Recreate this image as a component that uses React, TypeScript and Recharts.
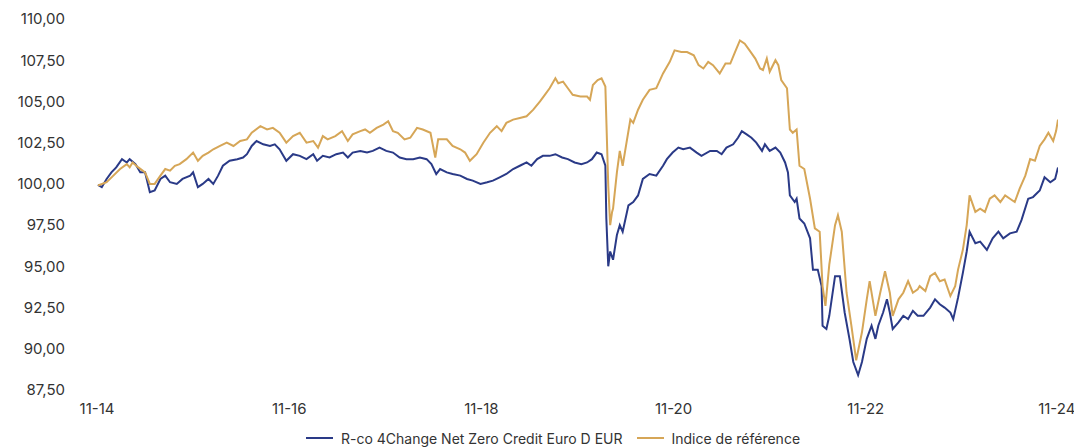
import React from "react";
import { LineChart, Line, XAxis, YAxis, Legend } from "recharts";

// time in years since Nov 2014
const fundT = [0.01,0.05,0.10,0.15,0.20,0.26,0.31,0.34,0.40,0.45,0.50,0.55,0.60,0.66,0.71,0.76,0.83,0.89,0.97,1.00,1.05,1.10,1.16,1.21,1.26,1.31,1.38,1.46,1.52,1.56,1.61,1.66,1.73,1.80,1.85,1.90,1.97,2.04,2.11,2.18,2.25,2.29,2.35,2.42,2.49,2.56,2.61,2.66,2.74,2.81,2.87,2.94,3.01,3.08,3.15,3.22,3.29,3.36,3.43,3.48,3.53,3.57,3.64,3.70,3.78,3.85,3.91,3.99,4.06,4.12,4.19,4.26,4.33,4.40,4.47,4.52,4.58,4.64,4.71,4.77,4.84,4.90,4.97,5.04,5.10,5.15,5.20,5.25,5.29,5.30,5.32,5.34,5.37,5.41,5.44,5.47,5.53,5.58,5.63,5.68,5.75,5.82,5.89,5.93,5.99,6.05,6.10,6.17,6.24,6.29,6.38,6.45,6.50,6.55,6.62,6.67,6.71,6.76,6.81,6.86,6.92,6.95,7.00,7.06,7.11,7.16,7.19,7.21,7.26,7.28,7.31,7.36,7.42,7.45,7.50,7.54,7.55,7.59,7.62,7.68,7.73,7.78,7.83,7.87,7.92,7.96,8.01,8.06,8.10,8.13,8.18,8.22,8.25,8.28,8.34,8.39,8.44,8.49,8.54,8.60,8.67,8.72,8.77,8.82,8.88,8.91,8.96,9.01,9.05,9.08,9.14,9.19,9.26,9.32,9.38,9.43,9.50,9.57,9.62,9.69,9.74,9.81,9.86,9.92,9.97,10.0];
const fundV = [99.94,99.8,100.3,100.7,101.0,101.5,101.3,101.5,101.2,100.7,100.7,99.5,99.6,100.3,100.5,100.1,100.0,100.3,100.5,100.7,99.8,100.0,100.3,100.0,100.5,101.1,101.4,101.5,101.6,101.8,102.3,102.6,102.4,102.3,102.4,102.1,101.4,101.8,101.7,101.5,101.8,101.4,101.7,101.6,101.8,101.9,101.6,101.9,102.0,101.9,102.0,102.2,102.0,101.9,101.6,101.5,101.5,101.6,101.5,101.2,100.6,100.9,100.7,100.6,100.5,100.3,100.2,100.0,100.1,100.2,100.4,100.6,100.9,101.1,101.3,101.1,101.5,101.7,101.7,101.8,101.6,101.5,101.3,101.2,101.3,101.5,101.9,101.8,101.1,97.9,95.0,95.9,95.4,96.9,97.5,97.1,98.7,98.9,99.3,100.3,100.6,100.5,101.1,101.5,101.9,102.2,102.1,102.2,101.9,101.7,102.0,102.0,101.8,102.2,102.4,102.8,103.2,103.0,102.8,102.5,102.0,102.4,102.0,102.2,101.9,101.3,100.7,99.3,98.9,99.1,97.9,97.6,96.7,94.8,94.8,93.8,91.4,91.2,92.0,94.4,94.4,92.2,90.6,89.2,88.4,89.2,90.6,91.4,90.6,91.4,92.2,93.0,92.2,91.2,91.6,92.0,91.8,92.3,92.0,92.0,92.5,93.0,92.7,92.5,92.2,91.8,93.1,94.6,95.9,97.1,96.4,96.5,96.0,96.7,97.1,96.7,97.0,97.1,97.8,99.1,99.2,99.6,100.4,100.1,100.3,101.0];

const benchT = [0.01,0.10,0.17,0.24,0.31,0.34,0.37,0.43,0.50,0.55,0.60,0.66,0.71,0.76,0.81,0.86,0.93,1.00,1.05,1.10,1.16,1.21,1.28,1.35,1.42,1.49,1.56,1.61,1.70,1.77,1.83,1.90,1.97,2.04,2.11,2.18,2.25,2.30,2.35,2.40,2.48,2.55,2.61,2.66,2.74,2.79,2.84,2.91,2.98,3.03,3.08,3.13,3.20,3.26,3.33,3.39,3.47,3.52,3.55,3.64,3.70,3.78,3.83,3.88,3.95,4.02,4.09,4.16,4.21,4.26,4.33,4.40,4.47,4.54,4.61,4.66,4.71,4.77,4.80,4.85,4.90,4.95,5.03,5.10,5.13,5.16,5.21,5.25,5.29,5.30,5.32,5.34,5.36,5.37,5.41,5.44,5.47,5.51,5.55,5.58,5.63,5.68,5.75,5.82,5.89,5.96,6.01,6.08,6.14,6.21,6.26,6.31,6.36,6.41,6.48,6.54,6.59,6.64,6.69,6.74,6.79,6.85,6.90,6.93,6.97,7.00,7.06,7.09,7.12,7.18,7.21,7.24,7.28,7.31,7.36,7.42,7.47,7.52,7.55,7.58,7.62,7.68,7.71,7.75,7.80,7.85,7.90,7.96,8.01,8.04,8.10,8.15,8.20,8.25,8.28,8.34,8.39,8.44,8.49,8.54,8.56,8.62,8.67,8.72,8.77,8.82,8.88,8.93,8.96,9.01,9.05,9.08,9.14,9.19,9.24,9.29,9.34,9.40,9.45,9.50,9.55,9.60,9.66,9.71,9.76,9.81,9.86,9.90,9.95,9.98,10.0];
const benchV = [99.9,100.1,100.5,100.9,101.2,101.0,101.3,101.0,100.7,100.0,100.0,100.5,100.9,100.8,101.1,101.2,101.5,101.9,101.4,101.7,101.9,102.1,102.3,102.5,102.3,102.6,102.7,103.1,103.5,103.3,103.4,103.1,102.5,102.9,103.1,102.5,102.6,102.2,102.9,102.7,102.9,103.2,102.6,103.0,103.2,103.3,103.1,103.4,103.6,103.8,103.2,103.1,102.7,102.8,103.4,103.3,103.1,101.6,102.7,102.7,102.3,102.1,101.9,101.4,101.8,102.5,103.1,103.5,103.2,103.7,103.9,104.0,104.1,104.5,105.0,105.4,105.8,106.4,106.1,106.2,105.8,105.4,105.3,105.3,105.1,106.0,106.3,106.4,105.9,103.9,99.9,97.5,98.3,98.5,100.7,102.0,101.1,102.5,103.9,103.7,104.5,105.1,105.7,105.8,106.7,107.4,108.1,108.0,108.0,107.8,107.2,107.0,107.4,107.2,106.7,107.3,107.3,108.0,108.7,108.5,108.1,107.6,107.0,106.9,107.6,106.8,107.5,107.2,106.3,105.8,103.3,103.1,103.3,101.1,100.9,99.1,97.3,97.1,93.8,92.6,95.1,97.5,98.1,97.1,93.4,91.4,89.3,91.0,93.0,94.1,92.0,93.4,94.7,93.4,92.0,93.0,93.4,94.1,93.4,93.6,93.8,93.5,94.4,94.6,94.1,94.2,93.2,93.8,94.8,96.0,97.5,99.3,98.3,98.5,98.3,99.1,99.3,98.9,99.3,99.1,98.9,99.7,100.5,101.5,101.4,102.3,102.7,103.1,102.6,103.2,103.9];

const xTicks = [0, 2, 4, 6, 8, 10];
const xTickLabels = ["11-14", "11-16", "11-18", "11-20", "11-22", "11-24"];
const yTicks = [87.5, 90, 92.5, 95, 97.5, 100, 102.5, 105, 107.5, 110];

const seriesNames = ["R-co 4Change Net Zero Credit Euro D EUR", "Indice de référence"];
const seriesColors = ["#2a3a87", "#d6a657"];

const fundData = fundT.map((t, i) => ({ t, v: fundV[i] }));
const benchData = benchT.map((t, i) => ({ t, v: benchV[i] }));

const FONT = "Inter, 'Liberation Sans', Arial, sans-serif";

const LegendContent = () => (
  <div style={{ display: "flex", justifyContent: "center", alignItems: "center", fontFamily: FONT, fontSize: 14, color: "#333", height: 20, paddingLeft: 40 }}>
    {seriesNames.map((n, i) => (
      <div key={n} style={{ display: "flex", alignItems: "center", marginRight: i === 0 ? 14 : 0 }}>
        <svg width={27} height={4} style={{ marginRight: 8 }}>
          <line x1={0} y1={2} x2={27} y2={2} stroke={seriesColors[i]} strokeWidth={2} />
        </svg>
        <span>{n}</span>
      </div>
    ))}
  </div>
);

export default function App() {
  return (
    <LineChart width={1066} height={440} margin={{ top: 11, right: 16, bottom: 0, left: 0 }}>
      <XAxis
        type="number"
        dataKey="t"
        domain={[0, 10]}
        allowDataOverflow
        ticks={xTicks}
        tickFormatter={(v: number) => xTickLabels[xTicks.indexOf(v)]}
        axisLine={false}
        tickLine={false}
        tickSize={0}
        tickMargin={13}
        height={38}
        tick={{ fontFamily: FONT, fontSize: 15, fill: "#333" }}
      />
      <YAxis
        type="number"
        domain={[87.5, 110]}
        ticks={yTicks}
        tickFormatter={(v: number) => v.toFixed(2).replace(".", ",")}
        axisLine={false}
        tickLine={false}
        tickSize={0}
        tickMargin={32}
        width={89}
        tick={{ fontFamily: FONT, fontSize: 15, fill: "#333" }}
      />
      <Legend verticalAlign="bottom" height={20} content={<LegendContent />} />
      <Line data={fundData} dataKey="v" name={seriesNames[0]} stroke={seriesColors[0]} strokeWidth={2} dot={false} isAnimationActive={false} />
      <Line data={benchData} dataKey="v" name={seriesNames[1]} stroke={seriesColors[1]} strokeWidth={2} dot={false} isAnimationActive={false} />
    </LineChart>
  );
}
